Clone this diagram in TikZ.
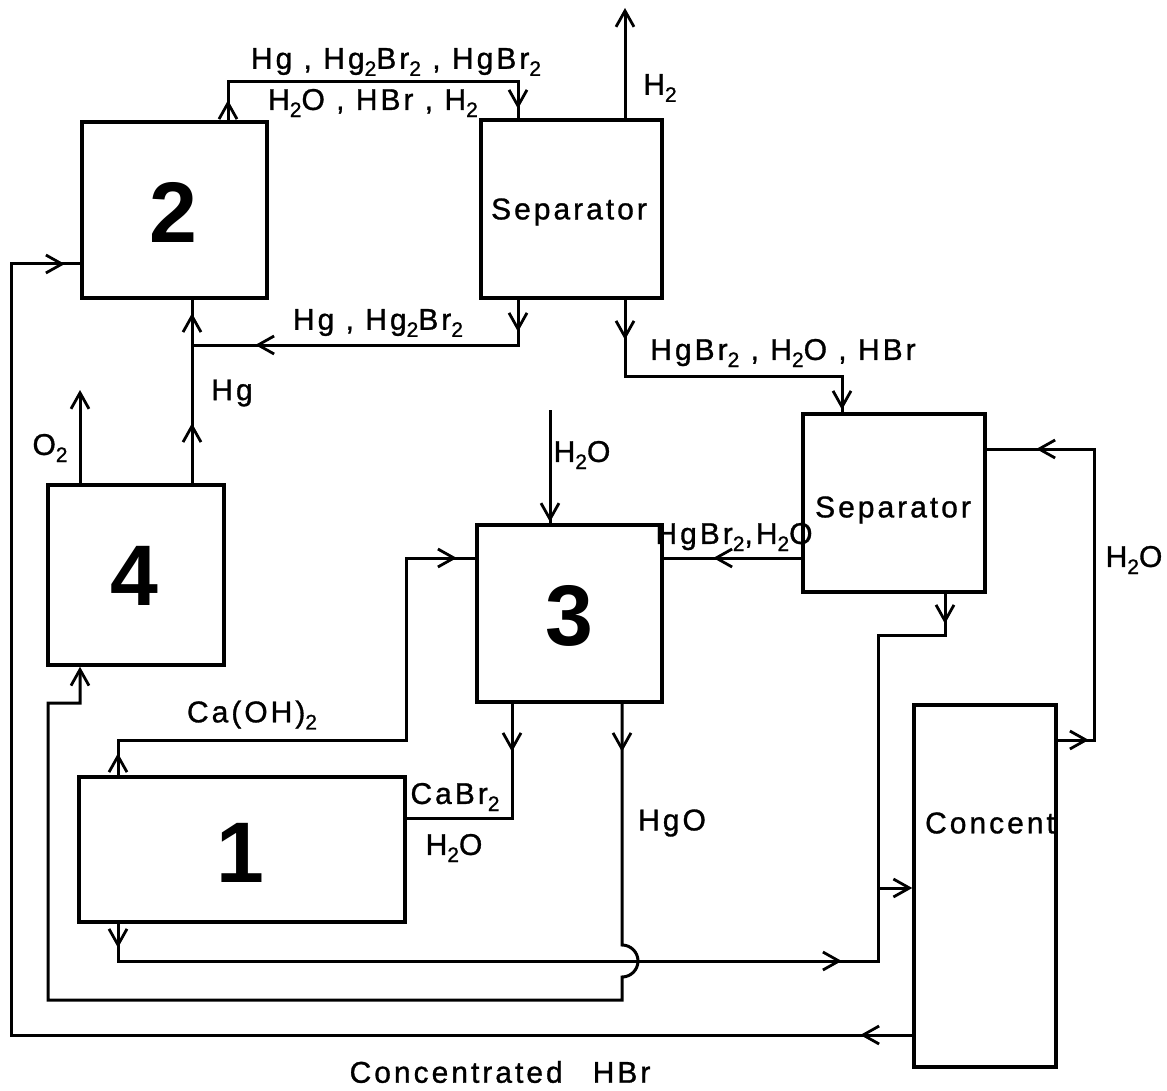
\documentclass[tikz,border=0pt]{standalone}
\usepackage{fontspec}
\usetikzlibrary{arrows.meta,decorations.markings}
\newfontfamily\labf{Liberation Sans}[LetterSpace=10,FakeBold=1]
\newfontfamily\numf{Liberation Sans}[BoldFont={Liberation Sans Bold}]
\newcommand\chs[1]{\raisebox{-0.45ex}{\fontsize{21}{21}\selectfont #1}}
\tikzset{
  box/.style={draw, line width=3.5pt, inner sep=0pt},
  conn/.style={line width=3pt},
  lab/.style={font=\labf\fontsize{30}{34}\selectfont, inner sep=0pt},
  num/.style={font=\numf\bfseries\fontsize{86}{90}\selectfont, inner sep=0pt},
  tipe/.style={-{Straight Barb[length=16pt,width=18pt,line width=2.8pt]}},
  marr/.style={postaction={decorate,decoration={markings,mark=at position #1 with {\arrow{Straight Barb[length=16pt,width=18pt,line width=2.8pt]}}}}}
}
\begin{document}
\begin{tikzpicture}[x=1pt,y=-1pt]
\useasboundingbox (0,0) rectangle (1167,1091);
% boxes
\node[box, minimum width=185pt, minimum height=176pt] (box2) at (174.5,210) {};
\node[box, minimum width=181pt, minimum height=178pt] (sep1) at (571.5,209) {};
\node[box, minimum width=176pt, minimum height=180pt] (box4) at (136,575) {};
\node[box, minimum width=185pt, minimum height=177pt] (box3) at (569.5,613.5) {};
\node[box, minimum width=182pt, minimum height=178pt] (sep2) at (894,503) {};
\node[box, minimum width=326pt, minimum height=145pt] (box1) at (242,849.5) {};
\node[box, minimum width=142pt, minimum height=362pt] (concent) at (985,886) {};
% box texts
\node[num] (n2) at (173,212) {2};
\node[num] (n4) at (134,576) {4};
\node[num] (n3) at (569,616) {3};
\node[num] (n1) at (240,853) {1};
\node[lab] (t1) at (569,212) {Separator};
\node[lab] (t2) at (893,510) {Separator};
\node[lab] (t3) at (990,823) {Concent};
% connectors
\coordinate (c1a) at (228,82); \coordinate (c1b) at (518,82);
\draw[conn, marr=20pt, marr=355pt] (box2.north -| c1a) -- (c1a) -- (c1b) -- (sep1.north -| c1b);
\coordinate (h2end) at (625,8);
\draw[conn, tipe] (sep1.north -| h2end) -- (h2end);
\coordinate (c3a) at (518,345); \coordinate (j1) at (192,345);
\draw[conn, marr=32pt, marr=308pt] (sep1.south -| c3a) -- (c3a) -- (j1);
\draw[conn, marr=60pt, marr=170pt] (box4.north -| j1) -- (box2.south -| j1);
\coordinate (c4a) at (625,376); \coordinate (c4b) at (842,376);
\draw[conn, marr=40pt, marr=327pt] (sep1.south -| c4a) -- (c4a) -- (c4b) -- (sep2.north -| c4b);
\coordinate (h2oin) at (550,410);
\draw[conn, marr=112pt] (h2oin) -- (box3.north -| h2oin);
\coordinate (y558) at (0,558);
\draw[conn, marr=88pt] (sep2.west |- y558) -- (box3.east |- y558);
\coordinate (c7a) at (118,740); \coordinate (c7b) at (406,740); \coordinate (c7c) at (406,558);
\draw[conn, marr=22pt, marr=556pt] (box1.north -| c7a) -- (c7a) -- (c7b) -- (c7c) -- (box3.west |- c7c);
\coordinate (c8a) at (512,818);
\draw[conn, marr=48pt] (box3.south -| c8a) -- (c8a) -- (box1.east |- c8a);
\coordinate (c9a) at (622,945); \coordinate (c9b) at (622,1000); \coordinate (c9c) at (48,1000);
\coordinate (c9d) at (48,703); \coordinate (c9e) at (80,703);
\draw[conn, marr=48pt, tipe] (box3.south -| c9a) -- (c9a) arc[start angle=90, end angle=-90, radius=16pt] -- (c9b) -- (c9c) -- (c9d) -- (c9e) -- (box4.south -| c9e);
\coordinate (c10a) at (118,961); \coordinate (c10b) at (878,961); \coordinate (c10c) at (878,888);
\draw[conn, marr=24pt, marr=761pt, tipe] (box1.south -| c10a) -- (c10a) -- (c10b) -- (c10c) -- (concent.west |- c10c);
\coordinate (c11a) at (945,635); \coordinate (c11b) at (878,635);
\draw[conn, marr=30pt] (sep2.south -| c11a) -- (c11a) -- (c11b) -- (c10c);
\coordinate (c12a) at (1094,740); \coordinate (c12b) at (1094,449);
\draw[conn, marr=31pt, marr=385pt] (concent.east |- c12a) -- (c12a) -- (c12b) -- (sep2.east |- c12b);
\coordinate (c13a) at (11,1035); \coordinate (c13b) at (11,264);
\draw[conn, marr=52pt, marr=1726pt] (concent.west |- c13a) -- (c13a) -- (c13b) -- (box2.west |- c13b);
\coordinate (o2end) at (80,390);
\draw[conn, tipe] (box4.north -| o2end) -- (o2end);
% labels
\node[lab] (l1) at (396,62) {Hg , Hg\chs{2}Br\chs{2} , HgBr\chs{2}};
\node[lab] (l2) at (373,103) {H\chs{2}O , HBr , H\chs{2}};
\node[lab] (l3) at (660,88) {H\chs{2}};
\node[lab] (l4) at (378,323) {Hg , Hg\chs{2}Br\chs{2}};
\node[lab] (l5) at (232,393) {Hg};
\node[lab] (l6) at (783,353) {HgBr\chs{2} , H\chs{2}O , HBr};
\node[lab] (l7) at (582,455) {H\chs{2}O};
\node[lab] (l8) at (734,537) {HgBr\chs{2},H\chs{2}O};
\node[lab] (l9) at (50,448) {O\chs{2}};
\node[lab] (l10) at (252,715) {Ca(OH)\chs{2}};
\node[lab] (l11) at (455,797) {CaBr\chs{2}};
\node[lab] (l12) at (454,848) {H\chs{2}O};
\node[lab] (l13) at (672,823) {HgO};
\node[lab] (l14) at (1134,560) {H\chs{2}O};
\node[lab] (l15) at (500,1072) {Concentrated\quad HBr};
\end{tikzpicture}
\end{document}
